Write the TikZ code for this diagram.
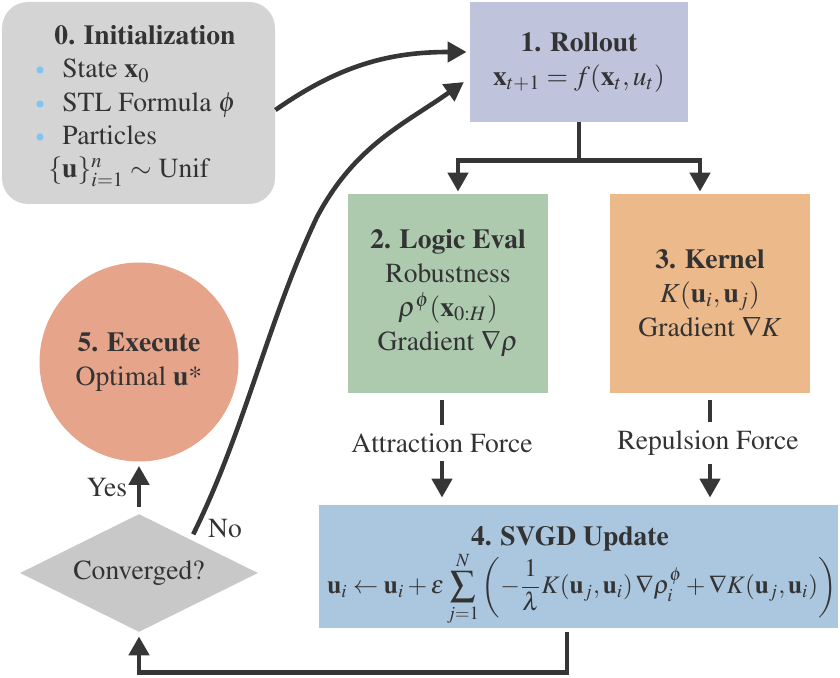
\documentclass[tikz,border=0pt]{standalone}
\usepackage[T1]{fontenc}
\usepackage{mathptmx}
\usetikzlibrary{arrows.meta,shapes.geometric}
\definecolor{initc}{HTML}{D3D4D3}
\definecolor{rollc}{HTML}{BFC4DC}
\definecolor{logicc}{HTML}{ADCAAF}
\definecolor{kernc}{HTML}{ECB98A}
\definecolor{svgdc}{HTML}{ABC7DF}
\definecolor{exc}{HTML}{E6A48B}
\definecolor{decc}{HTML}{C8C8C8}
\definecolor{ln}{HTML}{363636}
\definecolor{txt}{HTML}{333333}
\definecolor{bul}{HTML}{80C4F0}
\tikzset{
  lbl/.style={inner sep=0pt, text=txt, font=\fontsize{13.8}{17}\selectfont},
  box/.style={lbl, align=center},
  line/.style={draw=ln, line width=2.3pt},
  arr/.style={line, -{Triangle[length=9.5pt,width=10pt]}},
}

\begin{document}
\begin{tikzpicture}[x=0.5pt,y=-0.5pt]
				\useasboundingbox (0,0) rectangle (840,678);
				
				\node[box, fill=initc, rounded corners=13pt, minimum width=136.5pt, minimum height=101pt] (init) at (138.5,103) {};
				\node[lbl] (initt) at (145,35) {\textbf{0. Initialization}};
				\fill[bul] (40,70) circle (1.8pt);
				\fill[bul] (40,104) circle (1.8pt);
				\fill[bul] (40,137) circle (1.8pt);
				\node[lbl, anchor=base west] (state) at (62,78) {State $\mathbf{x}_0$};
				\node[lbl, anchor=base west] (stl) at (62,112) {STL Formula $\phi$};
				\node[lbl, anchor=base west] (part) at (62,145) {Particles};
				\node[lbl, anchor=base west] (unif) at (48,178) {$\{\mathbf{u}\}_{i=1}^{n} \sim$ Unif};
				
				\node[box, fill=rollc, minimum width=109pt, minimum height=60pt] (roll) at (579,62) {\textbf{1. Rollout}\\$\mathbf{x}_{t+1} = f(\mathbf{x}_t, u_t)$};
				
				\node[box, fill=logicc, minimum width=100pt, minimum height=99.5pt] (logic) at (448,293.5) {\textbf{2. Logic Eval}\\Robustness\\$\rho^{\phi}(\mathbf{x}_{0:H})$\\Gradient $\nabla\rho$};
				\node[box, fill=kernc, minimum width=100pt, minimum height=99.5pt] (kern) at (710,293.5) {\textbf{3. Kernel}\\$K(\mathbf{u}_i, \mathbf{u}_j)$\\Gradient $\nabla K$};
				
				\node[box, fill=svgdc, minimum width=259.5pt, minimum height=61.5pt] (svgd) at (578.5,566.5) {};
				\node[lbl] (svgdt) at (570,539) {\textbf{4. SVGD Update}};
				\node[lbl, font=\fontsize{12.6}{15}\selectfont] (svgdf) at (582,589) {$\displaystyle \mathbf{u}_i \leftarrow \mathbf{u}_i + \epsilon \sum_{j=1}^{N} \left( -\frac{1}{\lambda} K(\mathbf{u}_j, \mathbf{u}_i)\, \nabla \rho_i^{\phi} + \nabla K(\mathbf{u}_j, \mathbf{u}_i) \right)$};
				
				\node[box, shape=circle, fill=exc, minimum size=99.5pt] (exec) at (139,362) {\textbf{5. Execute}\\Optimal $\mathbf{u}$*};
				\node[box, shape=diamond, shape aspect=2, fill=decc, minimum width=119pt, minimum height=59pt] (dec) at (139,573) {Converged?};
				
				\node[lbl, inner sep=4pt] (attr) at (442,443) {Attraction Force};
				\node[lbl, inner sep=4pt] (rep) at (708,443) {Repulsion Force};
				\node[lbl] (yes) at (107,488) {Yes};
				\node[lbl] (no) at (225,529) {No};
				
				\draw[arr, shorten >=1.5pt] ([yshift=-3.5pt]init.east) to[out=35,in=180] ([yshift=5pt]roll.west);
				\draw[arr, shorten >=3.5pt] ([xshift=-2.75pt,yshift=4.5pt]dec.north east) .. controls +(52,-105) and +(-49,103) .. (317,217) .. controls +(38,-71.5) and +(-66,46.5) .. ([yshift=-8pt]roll.west);
				
				\draw[line] (roll.south) -- ++(0,38) coordinate (split);
				\draw[arr, shorten >=1pt] (split) -| ([xshift=5pt]logic.north);
				\draw[arr, shorten >=1pt] (split) -| ([xshift=-5pt]kern.north);
				
				\draw[line] ([xshift=-3pt,yshift=-3.5pt]logic.south) -- (attr.north);
				\draw[arr, shorten >=3.5pt] (attr.south) -- (attr.south |- svgd.north);
				\draw[line] ([yshift=-3.5pt]kern.south) -- (kern.south |- rep.north);
				\draw[arr, shorten >=3.5pt] (kern.south |- rep.south) -- (kern.south |- svgd.north);
				
				\draw[arr, shorten >=2pt] ([xshift=-5.75pt,yshift=-2pt]svgd.south) -- ++(0,40) -| (dec.south);
				\draw[arr, shorten <=3.5pt, shorten >=2pt] (dec.north) -- (exec.south);
			\end{tikzpicture}
\end{document}
